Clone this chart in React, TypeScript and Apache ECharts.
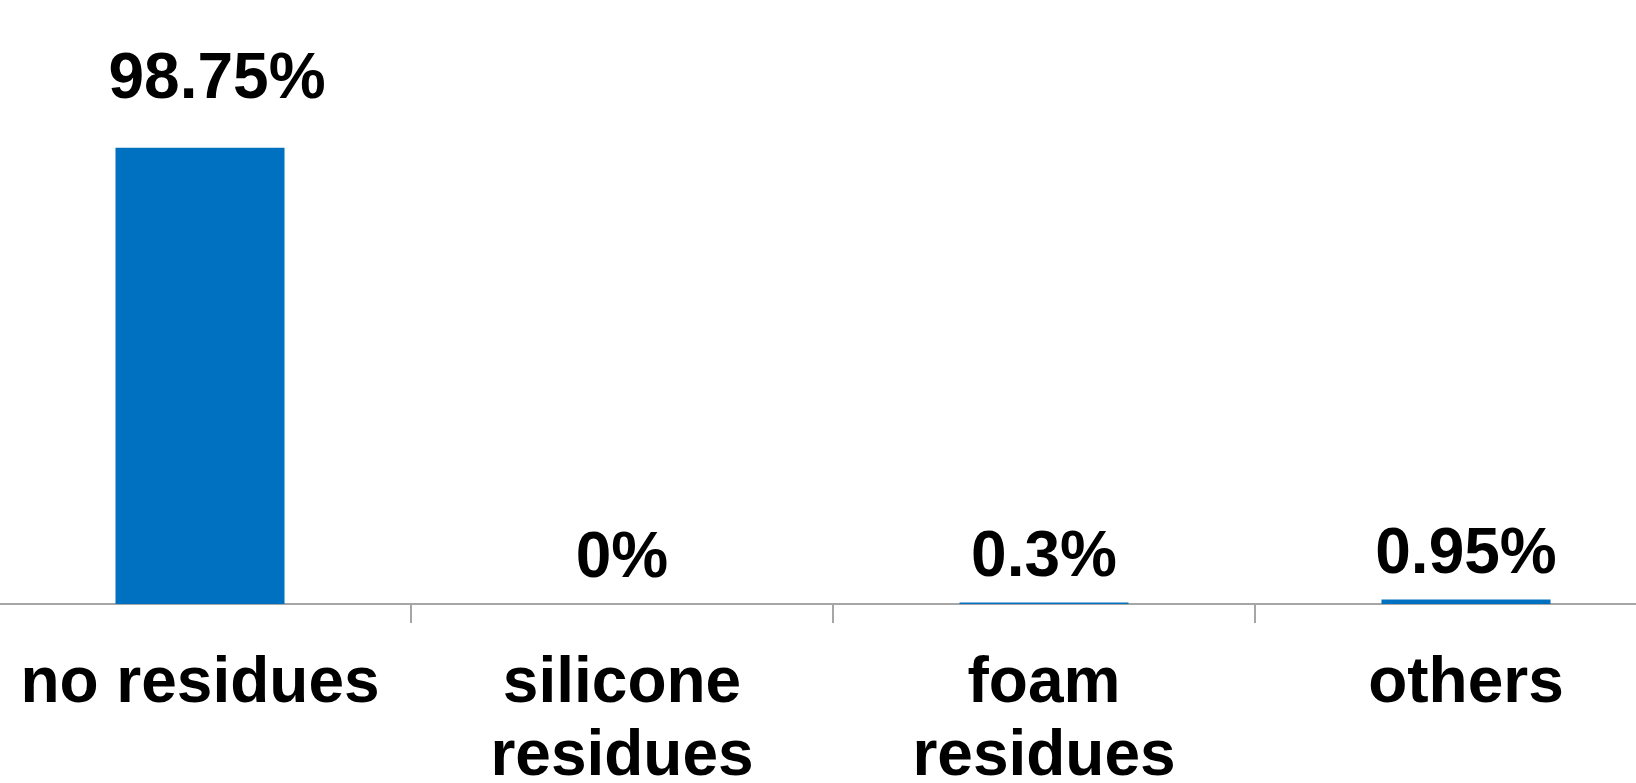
import React, { useEffect, useRef } from "react";
import * as echarts from "echarts";

const categories = ["no residues", "silicone\nresidues", "foam\nresidues", "others"];
const values = [98.75, 0, 0.3, 0.95];
const valueLabels = ["98.75%", "0%", "0.3%", "0.95%"];
const labelGaps = [40, 17, 17, 17];
const labelShiftX = [17, 0, 0, 0];

const FONT = "'Liberation Sans', Arial, sans-serif";

export default function App() {
  const ref = useRef<HTMLDivElement>(null);
  useEffect(() => {
    if (!ref.current) return;
    const chart = echarts.init(ref.current, undefined, { renderer: "svg" });
    chart.setOption({
      animation: false,
      backgroundColor: "#ffffff",
      grid: {
        left: -11,
        top: 142,
        width: 1688,
        height: 462,
        containLabel: false,
        outerBoundsMode: "none",
      },
      xAxis: {
        type: "category",
        data: categories,
        axisLine: { lineStyle: { color: "#a6a6a6", width: 2 } },
        axisTick: { show: true, length: 19, lineStyle: { color: "#a6a6a6", width: 2 } },
        axisLabel: {
          color: "#000",
          fontSize: 64,
          fontWeight: "bold",
          fontFamily: FONT,
          lineHeight: 73,
          margin: 39,
          interval: 0,
        },
      },
      yAxis: {
        type: "value",
        min: 0,
        max: 100,
        show: false,
        splitLine: { show: false },
      },
      series: [
        {
          type: "bar",
          barWidth: 169,
          data: values.map((v, i) => ({
            value: v,
            label: {
              show: true,
              position: "top",
              distance: labelGaps[i],
              offset: [labelShiftX[i], 0],
              formatter: valueLabels[i],
            },
          })),
          itemStyle: { color: "#0070C0" },
          label: {
            show: true,
            position: "top",
            color: "#000",
            fontSize: 64,
            fontWeight: "bold",
            fontFamily: FONT,
          },
        },
      ],
    });
    return () => chart.dispose();
  }, []);
  return (
    <div
      ref={ref}
      style={{ position: "fixed", left: 0, top: 0, width: 1636, height: 783, background: "#fff" }}
    />
  );
}
